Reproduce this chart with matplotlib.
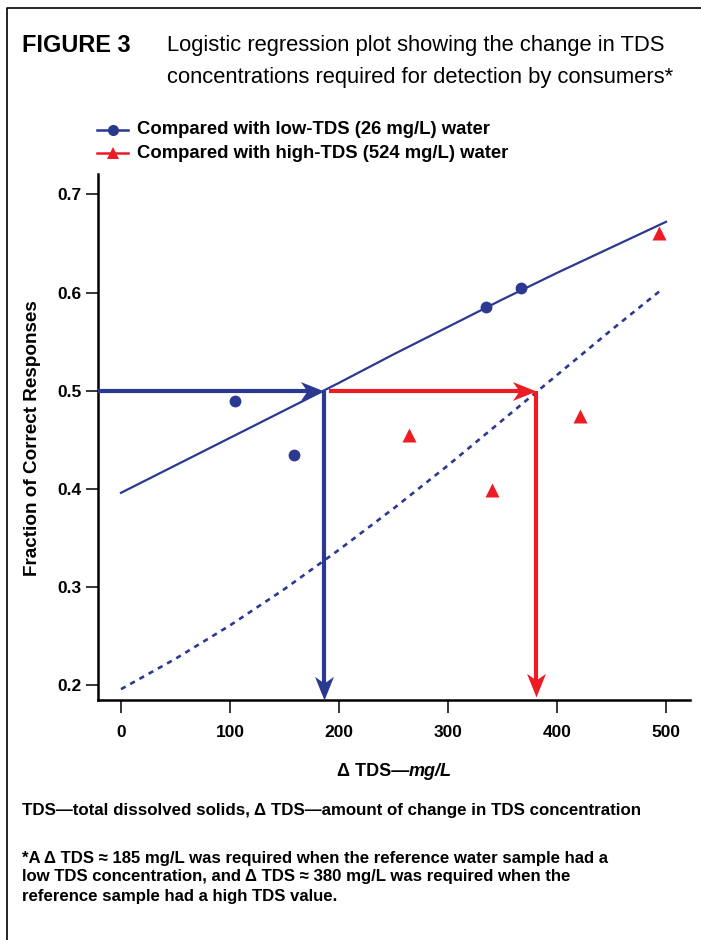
import matplotlib
matplotlib.use("Agg")
import matplotlib.pyplot as plt
from matplotlib.lines import Line2D
from matplotlib.path import Path
from matplotlib import font_manager
import numpy as np

# ---------------- data ----------------
low_x = [105, 159, 335, 367]
low_y = [0.490, 0.435, 0.585, 0.605]
high_x = [264, 340, 421, 494]
high_y = [0.455, 0.399, 0.474, 0.661]

low_fit_x = [0, 50, 100, 150, 200, 250, 300, 350, 400, 450, 500]
low_fit_y = [0.396, 0.424, 0.452, 0.480, 0.508, 0.537, 0.565, 0.593, 0.620, 0.646, 0.672]
high_fit_x = [0, 50, 100, 150, 200, 250, 300, 350, 400, 450, 496]
high_fit_y = [0.196, 0.227, 0.261, 0.298, 0.338, 0.380, 0.424, 0.470, 0.516, 0.562, 0.603]

threshold_p = 0.5
threshold_low = 186
threshold_high = 381

xticks = [0, 100, 200, 300, 400, 500]
yticks = [0.2, 0.3, 0.4, 0.5, 0.6, 0.7]
ytick_labels = ["0.2", "0.3", "0.4", "0.5", "0.6", "0.7"]

legend_labels = ["Compared with low-TDS (26 mg/L) water",
                 "Compared with high-TDS (524 mg/L) water"]
title_head = "FIGURE 3"
title_lines = ["Logistic regression plot showing the change in TDS",
               "concentrations required for detection by consumers*"]
ylabel = "Fraction of Correct Responses"
xlabel_a = "\u0394 TDS\u2014"
xlabel_b = "mg/L"
note1 = "TDS\u2014total dissolved solids, \u0394 TDS\u2014amount of change in TDS concentration"
note2 = ["*A \u0394 TDS \u2248 185 mg/L was required when the reference water sample had a",
         "low TDS concentration, and \u0394 TDS \u2248 380 mg/L was required when the",
         "reference sample had a high TDS value."]

# ---------------- style ----------------
BLUE = "#2b3990"
RED = "#ed1c24"
W, H = 701, 940
names = {f.name for f in font_manager.fontManager.ttflist}
NARROW = "Liberation Sans Narrow" if "Liberation Sans Narrow" in names else None
SANS = ["Liberation Sans", "DejaVu Sans"]
plt.rcParams["font.family"] = SANS

fig = plt.figure(figsize=(W / 100, H / 100), dpi=100)

def fx(px):
    return px / W

def fy(py):
    return 1 - py / H

ax = fig.add_axes([fx(98), fy(700), fx(690) - fx(98), fy(174) - fy(700)])
ax.set_xlim(-21.1, 522)
ax.set_ylim(0.185, 0.7207)
for s in ("top", "right"):
    ax.spines[s].set_visible(False)
for s in ("left", "bottom"):
    ax.spines[s].set_linewidth(1.8)
ax.set_xticks(xticks)
ax.set_xticklabels([str(v) for v in xticks])
ax.set_yticks(yticks)
ax.set_yticklabels(ytick_labels)
ax.tick_params(axis="both", direction="out", length=9, width=1.1, labelsize=12.5)
ax.tick_params(axis="x", pad=9)
ax.tick_params(axis="y", pad=3)
for lab in ax.get_xticklabels() + ax.get_yticklabels():
    lab.set_fontweight("bold")

# fits
ax.plot(low_fit_x, low_fit_y, color=BLUE, lw=1.6, zorder=3)
ax.plot(high_fit_x, high_fit_y, color=BLUE, lw=1.9, ls=(0, (2.0, 2.0)), zorder=3)

# points
ax.plot(low_x, low_y, "o", ms=8.5, color=BLUE, mec="none", zorder=4)
ax.plot(high_x, high_y, "^", ms=9.5, color=RED, mec="none", zorder=4)

# arrows
head_right = Path([(0, 0), (-1, 0.4), (-0.72, 0), (-1, -0.4), (0, 0)],
                  [Path.MOVETO, Path.LINETO, Path.LINETO, Path.LINETO, Path.CLOSEPOLY])
head_down = Path([(0, 0), (-0.4, 1), (0, 0.72), (0.4, 1), (0, 0)],
                 [Path.MOVETO, Path.LINETO, Path.LINETO, Path.LINETO, Path.CLOSEPOLY])
HEAD_MS = 34  # head length = HEAD_MS/2 points


def arrow(x0, y0, x1, y1, color, marker):
    p0 = ax.transData.transform((x0, y0))
    p1 = ax.transData.transform((x1, y1))
    d = (p1 - p0) / np.hypot(*(p1 - p0))
    notch_px = 0.72 * HEAD_MS / 2 * 100 / 72
    pe = p1 - d * (notch_px - 1)
    xe, ye = ax.transData.inverted().transform(pe)
    ax.plot([x0, xe], [y0, ye], color=color, lw=3.0, solid_capstyle="butt",
            zorder=5, clip_on=False)
    ax.plot([x1], [y1], marker=marker, ms=HEAD_MS, color=color, mew=0,
            zorder=6, clip_on=False)


ylo = ax.get_ylim()[0]
xlo = ax.get_xlim()[0]
px_x = 1 / (ax.transData.transform((1, 0))[0] - ax.transData.transform((0, 0))[0])
px_y = 1 / (ax.transData.transform((0, 1))[1] - ax.transData.transform((0, 0))[1])
arrow(xlo, threshold_p, threshold_low, threshold_p, BLUE, head_right)
arrow(threshold_low, threshold_p, threshold_low, ylo, BLUE, head_down)
arrow(threshold_low + 5 * px_x, threshold_p, threshold_high, threshold_p, RED, head_right)
arrow(threshold_high, threshold_p, threshold_high, ylo + 3 * px_y, RED, head_down)

# axis labels
fig.text(fx(33), fy(438), ylabel, rotation=90, ha="center", va="center",
         fontsize=13.6, fontweight="bold")
fig.text(fx(409), fy(772), xlabel_a, ha="right", va="center", fontsize=13, fontweight="bold")
fig.text(fx(409), fy(772), xlabel_b, ha="left", va="center", fontsize=13,
         fontweight="bold", fontstyle="italic")

# legend (manual)
for i, (col, mk, ms, lab) in enumerate([(BLUE, "o", 8, legend_labels[0]),
                                         (RED, "^", 9, legend_labels[1])]):
    yy = fy(130 + 23 * i)
    fig.add_artist(Line2D([fx(97), fx(112.5), fx(128)], [yy, yy, yy], color=col, lw=1.8,
                          marker=mk, ms=ms, markevery=[1], mew=0,
                          transform=fig.transFigure))
    fig.text(fx(137), yy, lab, ha="left", va="center", fontsize=13.3, fontweight="bold")

# title
if NARROW:
    head_kw = dict(fontsize=20, family=[NARROW, "DejaVu Sans"])
    line_kw = dict(fontsize=18, family=[NARROW, "DejaVu Sans"])
else:
    head_kw = dict(fontsize=16.9)
    line_kw = dict(fontsize=15.8)
fig.text(fx(22), fy(45), title_head, ha="left", va="center", fontweight="bold", **head_kw)
for i, t in enumerate(title_lines):
    fig.text(fx(167), fy(45 + 32 * i), t, ha="left", va="center", **line_kw)

# notes
fig.text(fx(22), fy(810), note1, ha="left", va="center", fontsize=12.2, fontweight="bold")
for i, t in enumerate(note2):
    fig.text(fx(22), fy(858 + 19 * i), t, ha="left", va="center", fontsize=12.1,
             fontweight="bold")

# frame
fig.add_artist(Line2D([fx(7), fx(7), 1.0], [0, fy(8), fy(8)], color="black", lw=1.2,
                      transform=fig.transFigure))

fig.savefig("out.png", dpi=100)
